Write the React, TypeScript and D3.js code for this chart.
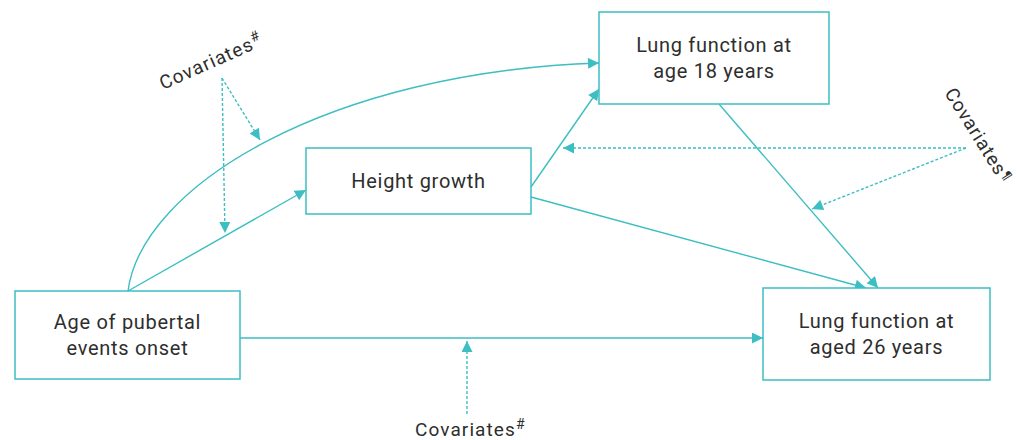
import React, { useEffect, useRef } from 'react'
import * as d3 from 'd3'

const W = 1017
const H = 440
const teal = '#3dbec2'
const ink = '#2e2e2e'

// boxes: id, label lines
const boxIds = ['age', 'height', 'lung18', 'lung26']
const boxLabels = [
    ['Age of pubertal', 'events onset'],
    ['Height growth'],
    ['Lung function at', 'age 18 years'],
    ['Lung function at', 'aged 26 years']
]
// box extents [x0, y0, x1, y1]
const boxRects = [
    [15, 291, 240, 379],
    [306, 148, 531, 214],
    [599, 12, 829, 104],
    [763, 288, 990, 380]
]

// solid paths: [from, to]
const solidLinks = [
    [[128, 291], [306, 190]],
    [[240, 338], [763, 338]],
    [[531, 187], [599, 89]],
    [[531, 197], [866, 288]],
    [[719, 104], [878, 288]]
]
// curved link age -> lung18 (cubic)
const curveLink = [[128, 291], [142, 185], [330, 72], [599, 63]]

// dotted covariate arrows
const dottedLinks = [
    [[222, 78], [260, 140]],
    [[222, 78], [225, 233]],
    [[966, 148], [563, 148]],
    [[966, 148], [812, 209]],
    [[467, 414], [467, 341]]
]

const covLabels = ['Covariates', 'Covariates', 'Covariates']
const covMarks = ['#', '¶', '#']
const covPos = [[163, 90, -24], [944, 93, 58], [415, 436, 0]]

export default function App() {
    const svgNode = useRef<SVGSVGElement>(null)

    useEffect(() => {
        const svg = d3.select(svgNode.current)
        svg.selectAll('*').remove()

        const defs = svg.append('defs')
        defs.append('marker')
            .attr('id', 'arrow')
            .attr('viewBox', '0 0 10 10')
            .attr('refX', 10)
            .attr('refY', 5)
            .attr('markerWidth', 12)
            .attr('markerHeight', 11)
            .attr('markerUnits', 'userSpaceOnUse')
            .attr('orient', 'auto')
            .append('path')
            .attr('d', 'M0,0 L10,5 L0,10 z')
            .attr('fill', teal)

        const line = d3.line()

        svg.selectAll('.solid')
            .data(solidLinks)
            .join('path')
            .attr('class', 'solid')
            .attr('d', d => line(d as [number, number][]))
            .attr('fill', 'none')
            .attr('stroke', teal)
            .attr('stroke-width', 1.4)
            .attr('marker-end', 'url(#arrow)')

        const p = d3.path()
        p.moveTo(curveLink[0][0], curveLink[0][1])
        p.bezierCurveTo(curveLink[1][0], curveLink[1][1], curveLink[2][0], curveLink[2][1], curveLink[3][0], curveLink[3][1])
        svg.append('path')
            .attr('d', p.toString())
            .attr('fill', 'none')
            .attr('stroke', teal)
            .attr('stroke-width', 1.4)
            .attr('marker-end', 'url(#arrow)')

        svg.selectAll('.dotted')
            .data(dottedLinks)
            .join('path')
            .attr('class', 'dotted')
            .attr('d', d => line(d as [number, number][]))
            .attr('fill', 'none')
            .attr('stroke', teal)
            .attr('stroke-width', 1.4)
            .attr('stroke-dasharray', '3,2')
            .attr('marker-end', 'url(#arrow)')

        const boxes = svg.selectAll('.box')
            .data(boxIds)
            .join('g')
            .attr('class', 'box')

        boxes.append('rect')
            .attr('x', (d, i) => boxRects[i][0])
            .attr('y', (d, i) => boxRects[i][1])
            .attr('width', (d, i) => boxRects[i][2] - boxRects[i][0])
            .attr('height', (d, i) => boxRects[i][3] - boxRects[i][1])
            .attr('fill', 'white')
            .attr('stroke', teal)
            .attr('stroke-width', 1.5)

        boxes.each(function (d, i) {
            const r = boxRects[i]
            const lines = boxLabels[i]
            const cx = (r[0] + r[2]) / 2
            const cy = (r[1] + r[3]) / 2
            const lh = 26
            const t = d3.select(this).append('text')
                .attr('text-anchor', 'middle')
                .attr('fill', ink)
                .style('font-family', 'Roboto, sans-serif')
                .style('font-size', '20px')
                .style('letter-spacing', '0.7px')
            lines.forEach((ln, j) => {
                t.append('tspan')
                    .attr('x', cx)
                    .attr('y', cy + (j - (lines.length - 1) / 2) * lh + 7)
                    .text(ln)
            })
        })

        covLabels.forEach((lab, i) => {
            const [x, y, a] = covPos[i]
            const t = svg.append('text')
                .attr('transform', `translate(${x},${y}) rotate(${a})`)
                .attr('fill', ink)
                .style('font-family', 'Roboto, sans-serif')
                .style('font-size', '19px')
                .style('letter-spacing', i === 1 ? '0.9px' : '1.1px')
            t.append('tspan').text(lab)
            t.append('tspan')
                .attr('dy', i === 1 ? -5 : -7)
                .style('font-size', i === 1 ? '13px' : '14px')
                .style('font-family', i === 1 ? '"DejaVu Sans", sans-serif' : 'Roboto, sans-serif')
                .text(covMarks[i])
        })
    }, [])

    return (
        <svg ref={svgNode} width={W} height={H}
            style={{ position: 'absolute', left: 0, top: 0, background: 'white' }} />
    )
}
